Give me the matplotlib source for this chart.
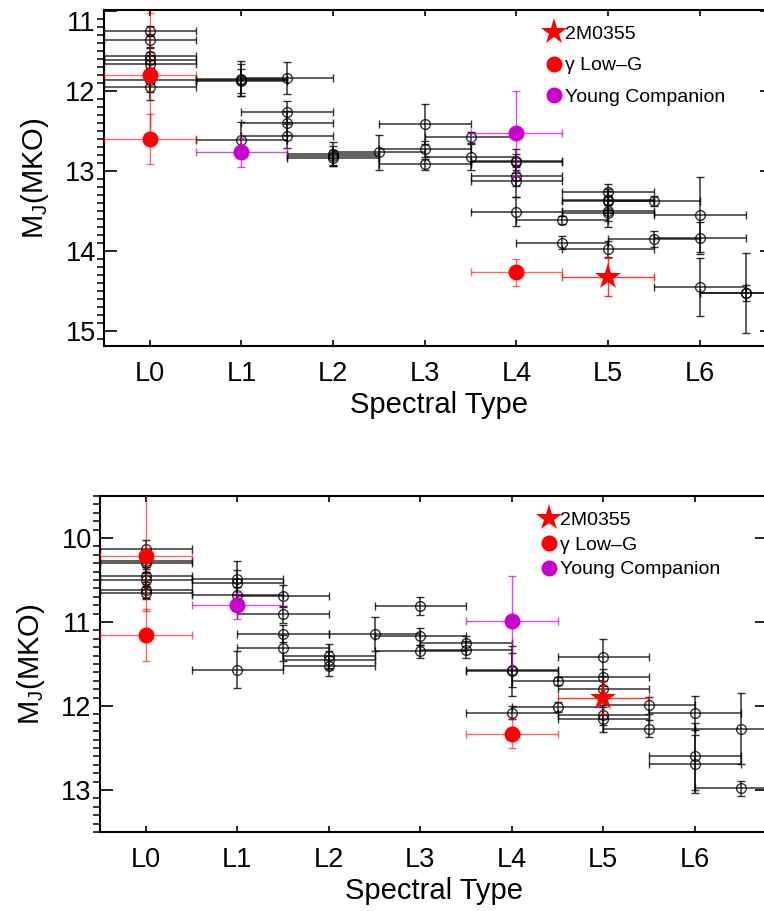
import matplotlib
matplotlib.use('Agg')
import matplotlib.pyplot as plt
from matplotlib.lines import Line2D
from matplotlib.ticker import MultipleLocator

plt.rcParams['font.family'] = ['Liberation Sans', 'DejaVu Sans']
plt.rcParams['mathtext.fontset'] = 'custom'
plt.rcParams['mathtext.rm'] = 'Liberation Sans'

# ---- top panel data (spectral type index: 0 = L0) ----
top_field_spt = [0, 0, 0, 0, 0, 0, 0,
                 1, 1, 1, 1,
                 1.5, 1.5, 1.5, 1.5,
                 2, 2, 2, 2.5,
                 3, 3, 3, 3.5, 3.5,
                 4, 4, 4, 4, 4,
                 4.5, 4.5,
                 5, 5, 5, 5, 5, 5,
                 5.5, 5.5,
                 6, 6, 6, 6.5, 6.5]
top_field_mj = [11.25, 11.37, 11.56, 11.62, 11.67, 11.87, 11.95,
                11.85, 11.87, 11.88, 12.61,
                11.84, 12.26, 12.40, 12.57,
                12.79, 12.81, 12.84, 12.77,
                12.41, 12.73, 12.92, 12.58, 12.83,
                12.88, 12.89, 13.07, 13.13, 13.51,
                13.61, 13.90,
                13.26, 13.37, 13.38, 13.50, 13.53, 13.98,
                13.38, 13.85,
                13.55, 13.84, 14.45, 14.53, 14.53]
top_field_err = [0.06, 0.08, 0.10, 0.10, 0.12, 0.15, 0.17,
                 0.22, 0.20, 0.15, 0.22,
                 0.20, 0.13, 0.15, 0.15,
                 0.15, 0.12, 0.10, 0.22,
                 0.25, 0.10, 0.07, 0.07, 0.16,
                 0.15, 0.10, 0.12, 0.20, 0.18,
                 0.05, 0.08,
                 0.10, 0.12, 0.15, 0.20, 0.10, 0.10,
                 0.06, 0.10,
                 0.47, 0.20, 0.36, 0.50, 0.10]
top_lowg_spt = [0, 0, 4]
top_lowg_mj = [11.80, 12.60, 14.27]
top_lowg_err = [0.77, 0.31, 0.17]
top_young_spt = [1, 4]
top_young_mj = [12.77, 12.53]
top_young_err = [0.18, 0.53]
top_target_spt = [5]
top_target_mj = [14.33]
top_target_err = [0.24]

# ---- bottom panel data ----
bot_field_spt = [0, 0, 0, 0, 0, 0, 0,
                 1, 1, 1, 1,
                 1.5, 1.5, 1.5, 1.5,
                 2, 2, 2, 2.5,
                 3, 3, 3, 3.5, 3.5,
                 4, 4, 4,
                 4.5, 4.5,
                 5, 5, 5, 5, 5,
                 5.5, 5.5,
                 6, 6, 6, 6.5, 6.5]
bot_field_mj = [10.13, 10.27, 10.30, 10.45, 10.50, 10.62, 10.65,
                10.49, 10.53, 10.68, 11.57,
                10.69, 10.91, 11.14, 11.31,
                11.41, 11.45, 11.52, 11.14,
                10.81, 11.17, 11.35, 11.25, 11.33,
                11.57, 11.58, 12.08,
                11.70, 12.01,
                11.42, 11.66, 11.80, 12.11, 12.16,
                11.99, 12.27,
                12.08, 12.60, 12.69, 12.27, 12.98]
bot_field_err = [0.11, 0.10, 0.10, 0.10, 0.08, 0.10, 0.08,
                 0.22, 0.15, 0.10, 0.22,
                 0.13, 0.10, 0.10, 0.15,
                 0.15, 0.10, 0.12, 0.20,
                 0.11, 0.10, 0.08, 0.08, 0.10,
                 0.20, 0.30, 0.08,
                 0.05, 0.06,
                 0.22, 0.10, 0.10, 0.12, 0.15,
                 0.10, 0.10,
                 0.20, 0.40, 0.35, 0.42, 0.09]
bot_lowg_spt = [0, 0, 4]
bot_lowg_mj = [10.22, 11.15, 12.33]
bot_lowg_err_lo = [0.80, 0.31, 0.17]
bot_lowg_err_hi = [0.65, 0.31, 0.17]
bot_young_spt = [1, 4]
bot_young_mj = [10.80, 10.99]
bot_young_err = [0.16, 0.54]
bot_target_spt = [5]
bot_target_mj = [11.90]
bot_target_err = [0.20]

spt_err = 0.5
tick_pos = [0, 1, 2, 3, 4, 5, 6]
tick_labels = ['L0', 'L1', 'L2', 'L3', 'L4', 'L5', 'L6']

RED = '#ff0000'
MAG = '#cc00cc'


def draw_panel(ax, field, lowg, young, target, ylim, yticks, legend_anchor, lspacing):
    fs, fm, fe = field
    ax.errorbar(fs, fm, yerr=fe, xerr=spt_err, fmt='o', ms=7, mfc='none',
                mec='k', mew=1, ecolor='k', elinewidth=1.1, capsize=3,
                alpha=0.8, zorder=2)
    ls, lm, le = lowg
    ax.errorbar(ls, lm, yerr=le, xerr=spt_err, fmt='none', ecolor=RED,
                elinewidth=1, capsize=3, alpha=0.6, zorder=3)
    ax.plot(ls, lm, 'o', color=RED, ms=10.5, zorder=4)
    ys, ym, ye = young
    ax.errorbar(ys, ym, yerr=ye, xerr=spt_err, fmt='none', ecolor=MAG,
                elinewidth=1, capsize=3, alpha=0.7, zorder=3)
    ax.plot(ys, ym, 'o', color=MAG, ms=10.5, zorder=4)
    ts, tm, te = target
    ax.errorbar(ts, tm, yerr=te, xerr=spt_err, fmt='none', ecolor=RED,
                elinewidth=1, capsize=3, alpha=0.8, zorder=3)
    ax.plot(ts, tm, '*', color=RED, ms=20, mew=0, zorder=5)

    ax.set_xlim(-0.5, 6.8)
    ax.set_ylim(*ylim)
    ax.set_xticks(tick_pos)
    ax.set_xticklabels(tick_labels)
    ax.set_yticks(yticks)
    ax.yaxis.set_minor_locator(MultipleLocator(0.1))
    ax.tick_params(axis='both', direction='in', top=True, right=True,
                   labelsize=19.5, width=1.2)
    ax.tick_params(axis='x', length=4.5, pad=11)
    ax.tick_params(axis='y', which='major', length=9.5, pad=6)
    ax.tick_params(axis='y', which='minor', length=5, width=1.1)
    for s in ax.spines.values():
        s.set_linewidth(1.5)
    ax.set_xlabel('Spectral Type', fontsize=21, labelpad=3)
    ax.set_ylabel(r'M$_{\mathregular{J}}$(MKO)', fontsize=21, labelpad=10)

    handles = [Line2D([], [], ls='none', marker='*', color=RED, ms=20, mew=0),
               Line2D([], [], ls='none', marker='o', color=RED, ms=10.5),
               Line2D([], [], ls='none', marker='o', color=MAG, ms=10.5)]
    ax.legend(handles, ['2M0355', '\u03b3 Low\u2013G', 'Young Companion'],
              loc='upper left', bbox_to_anchor=legend_anchor, frameon=False,
              fontsize=14, handlelength=0.85, handletextpad=0.15,
              labelspacing=lspacing, borderpad=0, borderaxespad=0,
              numpoints=1)


fig = plt.figure(figsize=(7.64, 9.11), dpi=100)
ax1 = fig.add_axes([104 / 764, 1 - 346 / 911, 669 / 764, 336 / 911])
ax2 = fig.add_axes([100 / 764, 1 - 832 / 911, 668 / 764, 336 / 911])

draw_panel(ax1,
           (top_field_spt, top_field_mj, top_field_err),
           (top_lowg_spt, top_lowg_mj, top_lowg_err),
           (top_young_spt, top_young_mj, top_young_err),
           (top_target_spt, top_target_mj, top_target_err),
           (15.19, 10.99), [11, 12, 13, 14, 15], (0.660, 0.955), 0.72)
draw_panel(ax2,
           (bot_field_spt, bot_field_mj, bot_field_err),
           (bot_lowg_spt, bot_lowg_mj, [bot_lowg_err_lo, bot_lowg_err_hi]),
           (bot_young_spt, bot_young_mj, bot_young_err),
           (bot_target_spt, bot_target_mj, bot_target_err),
           (13.5, 9.5), [10, 11, 12, 13], (0.660, 0.955), 0.37)

# the top label of the upper panel hangs below its tick
ax1.get_yticklabels()[0].set_verticalalignment('top')

fig.savefig('out.png', dpi=100)
